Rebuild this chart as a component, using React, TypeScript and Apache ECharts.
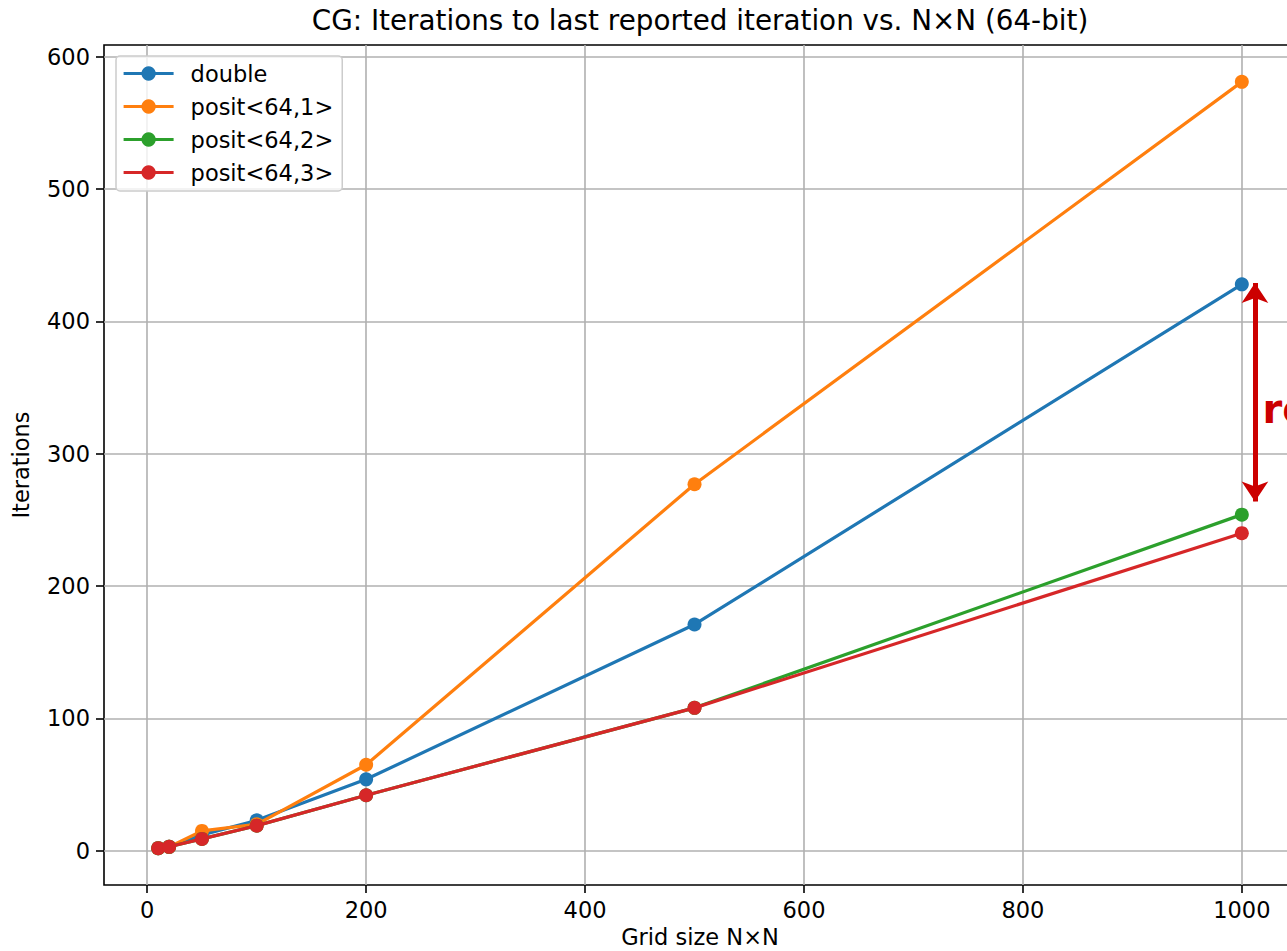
import React, { useEffect, useRef } from "react";
import * as echarts from "echarts";

const gridSizes = [10, 20, 50, 100, 200, 500, 1000];
const doubleIters = [2, 3, 12, 23, 54, 171, 428];
const posit1Iters = [2, 3, 15, 20, 65, 277, 581];
const posit2Iters = [2, 3, 9, 19, 42, 108, 254];
const posit3Iters = [2, 3, 9, 19, 42, 108, 240];
const seriesNames = ["double", "posit<64,1>", "posit<64,2>", "posit<64,3>"];
const seriesColors = ["#1f77b4", "#ff7f0e", "#2ca02c", "#d62728"];
const xTicks = [0, 200, 400, 600, 800, 1000];
const yTicks = [0, 100, 200, 300, 400, 500, 600];
const arrowX = 1012;
const arrowTop = 429;
const arrowBottom = 264;
const noteText = "re";
const notePos = [1019, 334];

const FONT = "DejaVu Sans";

export default function App() {
  const ref = useRef<HTMLDivElement>(null);
  useEffect(() => {
    if (!ref.current) return;
    const chart = echarts.init(ref.current, null, { renderer: "svg" });
    const all = [doubleIters, posit1Iters, posit2Iters, posit3Iters];
    const series: any[] = all.map((vals, i) => ({
      name: seriesNames[i],
      type: "line",
      data: gridSizes.map((x, j) => [x, vals[j]]),
      symbol: "circle",
      symbolSize: 14,
      showSymbol: true,
      lineStyle: { width: 3.2, color: seriesColors[i] },
      itemStyle: { color: seriesColors[i] },
      emphasis: { disabled: true },
      z: 3 + i,
    }));
    series[0].markLine = {
      silent: true,
      symbol: ["arrow", "arrow"],
      symbolSize: [20, 20],
      label: { show: false },
      lineStyle: { color: "#cc0000", width: 5, type: "solid" },
      z: 10,
      data: [[{ coord: [arrowX, arrowTop] }, { coord: [arrowX, arrowBottom] }]],
    };
    const axisCommon = {
      axisLine: { show: false, onZero: false },
      axisTick: { show: true, inside: false, length: 8, lineStyle: { color: "#000", width: 1.6 } },
      axisLabel: { color: "#000", fontFamily: FONT, fontSize: 22.5, formatter: (v: number) => String(v) },
      splitLine: { show: true, lineStyle: { color: "#b0b0b0", width: 1.6 } },
      nameTextStyle: { color: "#000", fontFamily: FONT, fontSize: 22.5 },
    };
    chart.setOption({
      animation: false,
      backgroundColor: "#fff",
      title: {
        text: "CG: Iterations to last reported iteration vs. N×N (64-bit)",
        left: "center",
        top: 1,
        textStyle: { fontFamily: FONT, fontSize: 27.8, fontWeight: "normal", color: "#000" },
      },
      grid: {
        left: 104,
        top: 45,
        width: 1192,
        height: 840,
        outerBoundsMode: "none",
        containLabel: false,
        show: true,
        borderColor: "#000",
        borderWidth: 1.6,
        backgroundColor: "#fff",
      },
      legend: {
        left: 116,
        top: 56,
        orient: "vertical",
        padding: [6, 9, 7, 6],
        itemWidth: 50,
        itemHeight: 18,
        itemGap: 10,
        backgroundColor: "rgba(255,255,255,0.8)",
        borderColor: "#cccccc",
        borderWidth: 1.5,
        borderRadius: 4,
        lineStyle: { width: 3.2 },
        textStyle: { fontFamily: FONT, fontSize: 22.5, color: "#000", lineHeight: 22, padding: [0, 0, 0, 12] },
        data: seriesNames,
      },
      xAxis: {
        ...axisCommon,
        type: "value",
        min: -39.5,
        max: 1049.5,
        name: "Grid size N×N",
        nameLocation: "middle",
        nameGap: 38,
        axisTick: { ...axisCommon.axisTick, customValues: xTicks },
        axisLabel: { ...axisCommon.axisLabel, customValues: xTicks, margin: 13 },
      },
      yAxis: {
        ...axisCommon,
        type: "value",
        min: -25.85,
        max: 608.85,
        name: "Iterations",
        nameLocation: "middle",
        nameGap: 72,
        axisTick: { ...axisCommon.axisTick, customValues: yTicks },
        axisLabel: { ...axisCommon.axisLabel, customValues: yTicks, margin: 14 },
      },
      series,
    });
    const p = chart.convertToPixel({ gridIndex: 0 }, notePos) as number[];
    chart.setOption({
      graphic: [
        {
          type: "text",
          x: p[0],
          y: p[1],
          z: 100,
          style: {
            text: noteText,
            fill: "#cc0000",
            font: `bold 40px "${FONT}"`,
            textAlign: "left",
            textVerticalAlign: "middle",
          },
        },
      ],
    });
    return () => chart.dispose();
  }, []);
  return (
    <div style={{ position: "fixed", left: 0, top: 0, width: 1287, height: 951, overflow: "hidden", background: "#fff" }}>
      <div ref={ref} style={{ width: 1400, height: 951 }} />
    </div>
  );
}
